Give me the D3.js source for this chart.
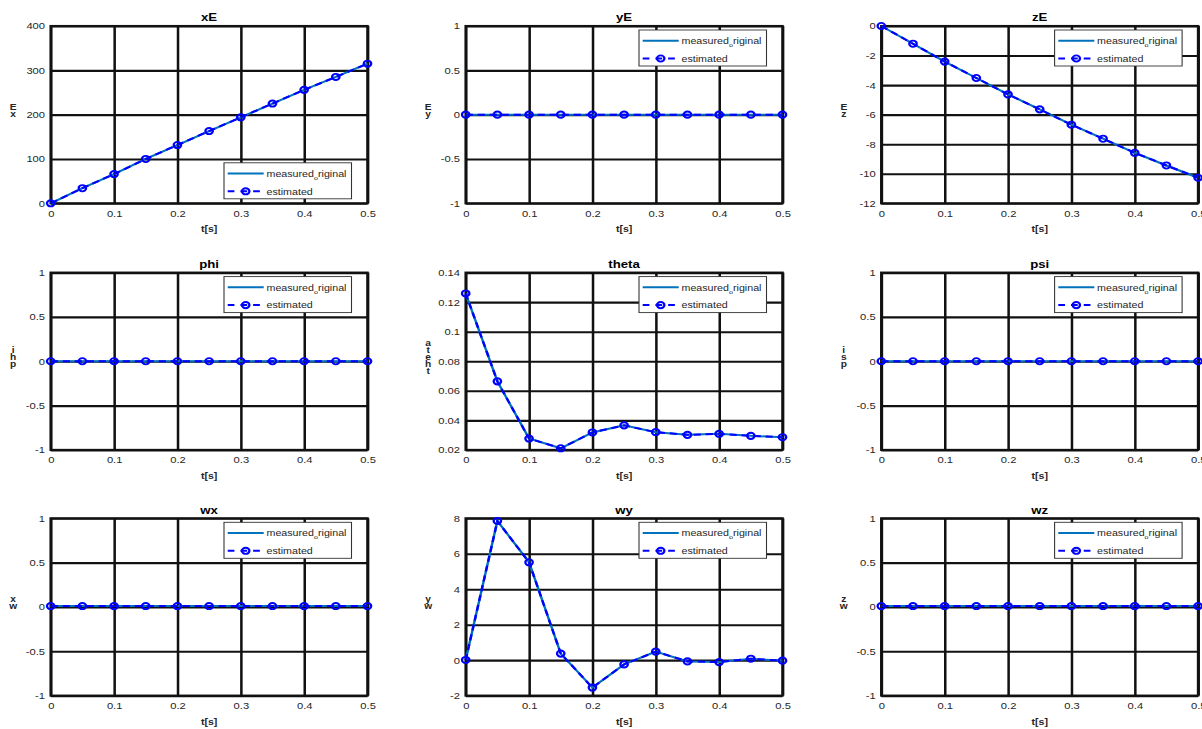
<!DOCTYPE html>
<html><head><meta charset="utf-8">
<script src="https://cdn.jsdelivr.net/npm/d3@7"></script>
<style>
body{margin:0;background:#fff;overflow:hidden}
text{font-family:"Liberation Sans",Arial,sans-serif}
</style>
</head><body>
<svg id="c" width="1202" height="729"></svg>
<script>
// ---------- data ----------
const t = [0, 0.05, 0.1, 0.15, 0.2, 0.25, 0.3, 0.35, 0.4, 0.45, 0.5];
const xTicks = [0, 0.1, 0.2, 0.3, 0.4, 0.5];

const titles = ["xE", "yE", "zE", "phi", "theta", "psi", "wx", "wy", "wz"];
const ylabelMain = ["x", "y", "z", "p", "t", "p", "w", "w", "w"];
const ylabelSub  = ["E", "E", "E", "hi", "heta", "si", "x", "y", "z"];

const measured_xE = [0, 34, 66, 100, 131.5, 163, 194, 225, 256, 285, 315];
const estimated_xE = [0, 34, 66, 100, 131.5, 163, 194, 225, 256, 285, 315];
const measured_yE = [0, 0, 0, 0, 0, 0, 0, 0, 0, 0, 0];
const estimated_yE = [0, 0, 0, 0, 0, 0, 0, 0, 0, 0, 0];
const measured_zE = [0, -1.2, -2.41, -3.52, -4.63, -5.64, -6.68, -7.63, -8.58, -9.44, -10.27];
const estimated_zE = [0, -1.2, -2.41, -3.52, -4.63, -5.64, -6.68, -7.63, -8.58, -9.44, -10.27];
const measured_phi = [0, 0, 0, 0, 0, 0, 0, 0, 0, 0, 0];
const estimated_phi = [0, 0, 0, 0, 0, 0, 0, 0, 0, 0, 0];
const measured_theta = [0.1259, 0.0664, 0.0277, 0.0211, 0.0318, 0.0366, 0.032, 0.0302, 0.0309, 0.0295, 0.0286];
const estimated_theta = [0.1259, 0.0664, 0.0277, 0.0211, 0.0318, 0.0366, 0.032, 0.0302, 0.0309, 0.0295, 0.0286];
const measured_psi = [0, 0, 0, 0, 0, 0, 0, 0, 0, 0, 0];
const estimated_psi = [0, 0, 0, 0, 0, 0, 0, 0, 0, 0, 0];
const measured_wx = [0.01, 0.01, 0.01, 0.01, 0.01, 0.01, 0.01, 0.01, 0.01, 0.01, 0.01];
const estimated_wx = [0.01, 0.01, 0.01, 0.01, 0.01, 0.01, 0.01, 0.01, 0.01, 0.01, 0.01];
const measured_wy = [0.01, 7.85, 5.52, 0.37, -1.55, -0.24, 0.48, -0.07, -0.11, 0.08, -0.03];
const estimated_wy = [0.01, 7.85, 5.52, 0.37, -1.55, -0.24, 0.48, -0.07, -0.11, 0.08, -0.03];
const measured_wz = [0.01, 0.01, 0.01, 0.01, 0.01, 0.01, 0.01, 0.01, 0.01, 0.01, 0.01];
const estimated_wz = [0.01, 0.01, 0.01, 0.01, 0.01, 0.01, 0.01, 0.01, 0.01, 0.01, 0.01];

const yTicks_xE = [0, 100, 200, 300, 400];
const yTicks_unit = [-1, -0.5, 0, 0.5, 1];
const yTicks_zE = [-12, -10, -8, -6, -4, -2, 0];
const yTicks_theta = [0.02, 0.04, 0.06, 0.08, 0.1, 0.12, 0.14];
const yTicks_wy = [-2, 0, 2, 4, 6, 8];

const legendLabels = ["measured", "o", "riginal", "estimated"];

// ---------- build panels ----------
const measured = [measured_xE, measured_yE, measured_zE, measured_phi, measured_theta, measured_psi, measured_wx, measured_wy, measured_wz];
const estimated = [estimated_xE, estimated_yE, estimated_zE, estimated_phi, estimated_theta, estimated_psi, estimated_wx, estimated_wy, estimated_wz];
const yTicks = [yTicks_xE, yTicks_unit, yTicks_zE, yTicks_unit, yTicks_theta, yTicks_unit, yTicks_unit, yTicks_wy, yTicks_unit];
const legendPos = ["br", "tr", "tr", "tr", "tr", "tr", "tr", "tr", "tr"];

// ---------- layout (the picture is horizontally stretched) ----------
const S = 1.2;
const colL = [50.7, 465.7, 881.3].map(v => v / S);
const rowT = [26, 272.6, 518.3];
const W = 316.8 / S, H = 177.3;

const svg = d3.select("#c");
const root = svg.append("g").attr("transform", `scale(${S},1)`);
const fmt = d => String(Math.round(d * 1e6) / 1e6);
const MEAS = "#0072BD", EST = "#0000FF", GRID = "#111";

titles.forEach((title, i) => {
  const L = colL[i % 3], T = rowT[Math.floor(i / 3)];
  const yt = yTicks[i];
  const x = d3.scaleLinear().domain([0, 0.5]).range([L, L + W]);
  const y = d3.scaleLinear().domain([d3.min(yt), d3.max(yt)]).range([T + H, T]);
  const g = root.append("g");

  // grid
  g.append("g").attr("transform", `translate(0,${T + H})`)
    .call(d3.axisBottom(x).tickValues(xTicks).tickSize(-H).tickFormat(""))
    .call(a => { a.select(".domain").remove(); a.selectAll("line").attr("stroke", GRID).attr("stroke-width", 2.1); });
  g.append("g").attr("transform", `translate(${L},0)`)
    .call(d3.axisLeft(y).tickValues(yt).tickSize(-W).tickFormat(""))
    .call(a => { a.select(".domain").remove(); a.selectAll("line").attr("stroke", GRID).attr("stroke-width", 2.1); });
  g.append("rect").attr("x", L).attr("y", T).attr("width", W).attr("height", H)
    .attr("fill", "none").attr("stroke", GRID).attr("stroke-width", 2.1);

  // tick labels
  g.append("g").attr("transform", `translate(0,${T + H})`)
    .call(d3.axisBottom(x).tickValues(xTicks).tickSize(0).tickPadding(7).tickFormat(fmt))
    .call(a => { a.select(".domain").remove();
      a.selectAll("text").attr("font-size", 9.3).attr("fill", "#262626").attr("font-family", "Liberation Sans, Arial, sans-serif"); });
  g.append("g").attr("transform", `translate(${L},0)`)
    .call(d3.axisLeft(y).tickValues(yt).tickSize(0).tickPadding(5.7 / S).tickFormat(fmt))
    .call(a => { a.select(".domain").remove();
      a.selectAll("text").attr("font-size", 9.3).attr("fill", "#262626").attr("font-family", "Liberation Sans, Arial, sans-serif"); });

  // title
  g.append("text").attr("x", L + W / 2).attr("y", T - 4.7).attr("text-anchor", "middle")
    .attr("font-size", 11).attr("font-weight", "bold").attr("fill", "#000").text(title);
  // x label
  g.append("text").attr("x", L + W / 2).attr("y", T + H + 29).attr("text-anchor", "middle")
    .attr("font-size", 8.8).attr("font-weight", "bold").attr("fill", "#262626").text("t[s]");
  // y label (stacked characters)
  const chars = [ylabelMain[i]].concat(ylabelSub[i].split(""));
  const n = chars.length, yc = T + H / 2;
  const bottom = yc - 4 + (n - 1) * 7 / 2 + 2.5;
  chars.forEach((ch, k) => {
    g.append("text").attr("x", L - 37.5 / S).attr("y", bottom - k * 7).attr("text-anchor", "middle")
      .attr("font-size", 8.5).attr("font-weight", "bold").attr("fill", "#262626").text(ch);
  });

  // data
  const line = d3.line().x((d, k) => x(t[k])).y(d => y(d));
  g.append("path").datum(measured[i]).attr("d", line).attr("fill", "none")
    .attr("stroke", MEAS).attr("stroke-width", 2);
  g.append("path").datum(estimated[i]).attr("d", line).attr("fill", "none")
    .attr("stroke", EST).attr("stroke-width", 2).attr("stroke-dasharray", "6,4");
  g.selectAll(".mk").data(estimated[i]).enter().append("circle")
    .attr("cx", (d, k) => x(t[k])).attr("cy", d => y(d)).attr("r", 3.1)
    .attr("fill", "none").attr("stroke", EST).attr("stroke-width", 1.9);

  // legend
  const bw = 127.5 / S, bh = 36;
  const bx = L + W - 16 / S - bw;
  const by = legendPos[i] === "br" ? T + H - 4.5 - bh : T + 4;
  const lg = g.append("g");
  lg.append("rect").attr("x", bx).attr("y", by).attr("width", bw).attr("height", bh)
    .attr("fill", "#fff").attr("stroke", "#333").attr("stroke-width", 0.9);
  const r1 = by + 10.7, r2 = by + 28.5;
  const sx0 = bx + 3.7 / S, sx1 = bx + 39.7 / S, tx = bx + 42.5 / S;
  lg.append("line").attr("x1", sx0).attr("x2", sx1).attr("y1", r1).attr("y2", r1)
    .attr("stroke", MEAS).attr("stroke-width", 2);
  lg.append("line").attr("x1", sx0).attr("x2", sx1).attr("y1", r2).attr("y2", r2)
    .attr("stroke", EST).attr("stroke-width", 2).attr("stroke-dasharray", "5.6,5");
  lg.append("circle").attr("cx", (sx0 + sx1) / 2).attr("cy", r2).attr("r", 3.1)
    .attr("fill", "none").attr("stroke", EST).attr("stroke-width", 1.9);
  const t1 = lg.append("text").attr("x", tx).attr("y", r1 + 3.3).attr("font-size", 8.9).attr("fill", "#262626");
  t1.append("tspan").text(legendLabels[0]);
  t1.append("tspan").attr("font-size", 6).attr("dy", 3).text(legendLabels[1]);
  t1.append("tspan").attr("dy", -3).text(legendLabels[2]);
  lg.append("text").attr("x", tx).attr("y", r2 + 3.3).attr("font-size", 8.9).attr("fill", "#262626").text(legendLabels[3]);
});
</script>
</body></html>
